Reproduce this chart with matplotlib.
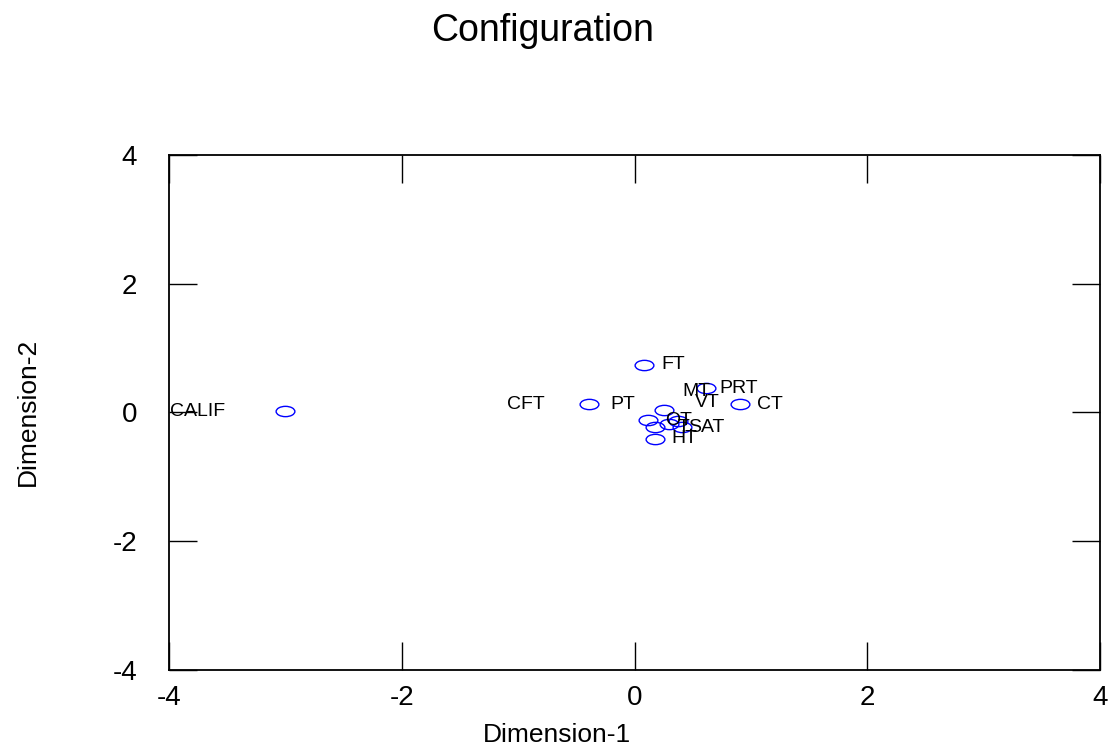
import numpy as np
import matplotlib.pyplot as plt
from matplotlib.path import Path
from matplotlib.transforms import Affine2D

plt.rcParams['font.family'] = ['Liberation Sans', 'DejaVu Sans']
plt.rcParams['axes.unicode_minus'] = False

# 점 좌표 (Dimension-1, Dimension-2)
dim1 = [-3.00, -0.39, 0.08, 0.61, 0.91, 0.25, 0.12, 0.18, 0.30, 0.41, 0.18, 0.37]
dim2 = [0.02, 0.13, 0.74, 0.38, 0.13, 0.04, -0.12, -0.23, -0.18, -0.23, -0.41, -0.14]

# 라벨 (그림에 찍힌 위치 그대로)
labels = ['CALIF', 'CFT', 'PT', 'FT', 'MT', 'PRT', 'VT', 'CT', 'OT', 'T', 'SAT', 'HT']
label_x = [-3.99, -1.10, -0.21, 0.23, 0.41, 0.73, 0.52, 1.05, 0.26, 0.37, 0.46, 0.32]
label_y = [0.02, 0.13, 0.13, 0.74, 0.32, 0.38, 0.15, 0.13, -0.12, -0.23, -0.23, -0.41]

ticks = [-4, -2, 0, 2, 4]

# 타원 마커
circ = Path.unit_circle()
ellipse = circ.transformed(Affine2D().scale(1.0, 0.55))

fig = plt.figure(figsize=(11.09, 7.49), dpi=100)
ax = fig.add_axes([0.1524, 0.1055, 0.8395, 0.6876])

ax.plot(dim1, dim2, linestyle='none', marker=ellipse, markersize=13.5,
        markerfacecolor='none', markeredgecolor='#0000ff', markeredgewidth=1)

for t, x, y in zip(labels, label_x, label_y):
    ax.text(x, y, t, fontsize=14, ha='left', va='center')

ax.set_xlim(-4, 4)
ax.set_ylim(-4, 4)
ax.set_xticks(ticks)
ax.set_yticks(ticks)
ax.tick_params(direction='in', length=20, width=1, top=True, right=True,
               labelsize=20)
ax.tick_params(axis='x', pad=11)
ax.tick_params(axis='y', pad=23)
for s in ax.spines.values():
    s.set_linewidth(1.3)

fig.text(0.489, 0.958, 'Configuration', fontsize=27, ha='center', va='center')
fig.text(0.502, 0.019, 'Dimension-1', fontsize=19, ha='center', va='center')
fig.text(0.025, 0.45, 'Dimension-2', fontsize=19, ha='center', va='center',
         rotation=90)

fig.savefig('out.png', dpi=100)
